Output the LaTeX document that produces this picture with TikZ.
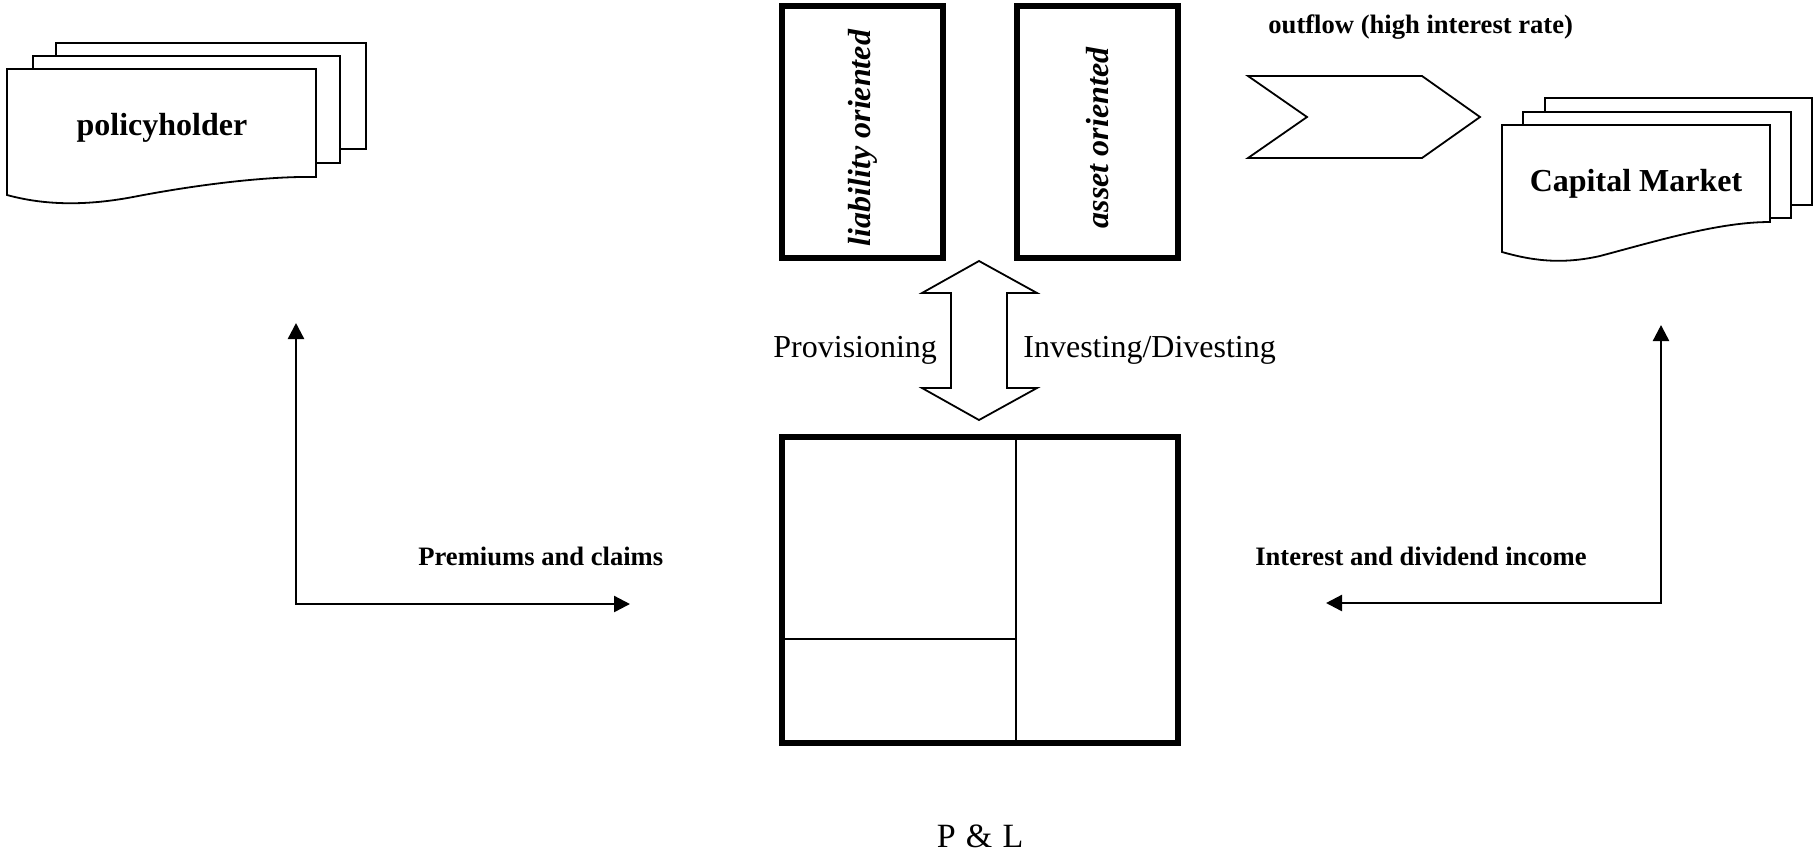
\documentclass[tikz,border=0pt]{standalone}
\usepackage{fontspec}
\setmainfont{Liberation Serif}
\usetikzlibrary{arrows.meta}
\begin{document}
\begin{tikzpicture}[x=0.5pt,y=-0.5pt,
  heavybox/.style={draw, line width=3pt, inner sep=0pt},
  sheet/.style={draw, line width=0.9pt, fill=white, line join=miter},
  bigbold/.style={font=\fontsize{16}{19}\selectfont\bfseries},
  bigplain/.style={font=\fontsize{16}{19}\selectfont},
  smallbold/.style={font=\fontsize{13.3}{16}\selectfont\bfseries},
  sidetext/.style={rotate=90, inner sep=0pt, font=\fontsize{16}{19}\selectfont\bfseries\itshape},
  flow/.style={line width=1.2pt, {Triangle[length=8pt,width=8pt]}-{Triangle[length=8pt,width=8pt]}},
  outline/.style={draw, line width=0.9pt, line join=miter}]
\useasboundingbox (0,0) rectangle (1814,853);

% policyholder: stack of documents
\draw[sheet] (56,43) rectangle (366,149);
\draw[sheet] (33,56) rectangle (340,163);
\draw[sheet] (7,69) -- (316,69) -- (316,177)
  .. controls (270,176) and (200,184) .. (133,197)
  .. controls (80,207) and (40,204) .. (7,195) -- cycle;
\node[bigbold, anchor=base] (ph) at (162,135) {policyholder};

% capital market: stack of documents
\draw[sheet] (1545,98) rectangle (1812,205);
\draw[sheet] (1523,112) rectangle (1791,218);
\draw[sheet] (1502,125) -- (1770,125) -- (1770,222)
  .. controls (1720,222) and (1660,240) .. (1600,256)
  .. controls (1560,265) and (1530,260) .. (1502,252) -- cycle;
\node[bigbold, anchor=base] (cm) at (1636,191) {Capital Market};

% the two steering boxes
\node[heavybox, minimum width=80.5pt, minimum height=126pt] (liab) at (862.5,132) {};
\node[sidetext] (liabtext) at (862.5,138) {liability oriented};
\node[heavybox, minimum width=80.5pt, minimum height=126pt] (asset) at (1097.5,132) {};
\node[sidetext] (assettext) at (1097.5,138) {asset oriented};

% profit and loss statement
\node[heavybox, minimum width=198pt, minimum height=153pt] (pl) at (980,590) {};
\draw[line width=1pt] (1016,437) -- (1016,743);
\draw[line width=1pt] (782,639) -- (1016,639);
\node[font=\fontsize{17}{20}\selectfont, anchor=base] (pllabel) at (980,847) {P\hspace{0.3em}\&\hspace{0.3em}L};

% block double arrow between the boxes and the P&L
\draw[outline] (979,261) -- (1037,293) -- (1007,293) -- (1007,388) -- (1037,388)
  -- (979,420) -- (922,388) -- (951,388) -- (951,293) -- (922,293) -- cycle;
\node[bigplain, anchor=base west, inner sep=0pt] (prov) at (773,357) {Provisioning};
\node[bigplain, anchor=base west, inner sep=0pt] (inv) at (1023,357) {Investing/Divesting};

% outflow chevron
\draw[outline] (1248,76) -- (1422,76) -- (1480,117) -- (1422,158) -- (1248,158) -- (1307,117) -- cycle;
\node[smallbold, anchor=base west, inner sep=0pt] (outflow) at (1268,33) {outflow (high interest rate)};

% premiums and claims flow
\coordinate (phUp) at (296,323);
\coordinate (phCorner) at (296,604);
\coordinate (phRight) at (630,604);
\draw[flow] (phUp) -- (phCorner) -- (phRight);
\node[smallbold, anchor=base west, inner sep=0pt] (prem) at (418,565) {Premiums and claims};

% interest and dividend flow
\coordinate (cmUp) at (1661,325);
\coordinate (cmCorner) at (1661,603);
\coordinate (cmLeft) at (1326,603);
\draw[flow] (cmUp) -- (cmCorner) -- (cmLeft);
\node[smallbold, anchor=base east, inner sep=0pt] (intdiv) at (1587,565) {Interest and dividend income};
\end{tikzpicture}
\end{document}
